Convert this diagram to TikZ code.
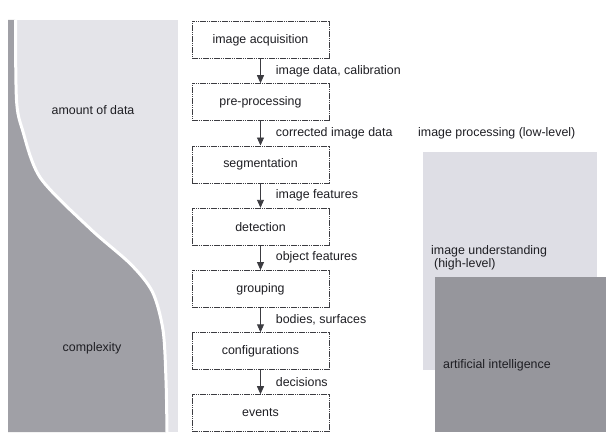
\documentclass[tikz,border=0pt]{standalone}
\usepackage{fontspec}
\setmainfont{Liberation Sans}
\usetikzlibrary{arrows.meta}
\definecolor{lightpanel}{RGB}{228,228,233}
\definecolor{darkpanel}{RGB}{160,160,166}
\definecolor{lightbox}{RGB}{222,222,229}
\definecolor{darkbox}{RGB}{150,150,156}
\definecolor{ink}{RGB}{30,30,35}
\definecolor{edge}{RGB}{60,60,65}
\tikzset{
  stepbox/.style={draw=edge, line width=0.55pt, dash pattern=on 1.6pt off 0.6pt,
    minimum width=137pt, minimum height=37pt, inner sep=0pt, text=ink},
  arr/.style={draw=edge, line width=0.9pt, -{Triangle[width=7pt,length=8pt]}},
  lbl/.style={anchor=west, inner sep=0pt, xshift=15pt, text=ink},
  txt/.style={inner sep=0pt, text=ink},
}
\begin{document}
\begin{tikzpicture}[x=1pt,y=-1pt,font=\fontsize{12.4}{14.5}\selectfont]
\useasboundingbox (0,0) rectangle (606,441);
\fill[white] (0,0) rectangle (606,441);
% left panel
\fill[lightpanel] (8,20) rectangle (178,432);
\fill[darkpanel] (8,20) -- (15,20) -- plot[smooth] coordinates {(15,20) (16,100) (22,130) (40,178) (90,229) (130,264) (152,292) (162,330) (165,380) (166,432)} -- (8,432) -- cycle;
\draw[white, line width=3pt] plot[smooth] coordinates {(15.5,20) (16.5,100) (22.5,130) (40.5,178) (90.5,229) (130.5,264) (152.5,292) (163,330) (166,380) (167,432)};
\node[txt] (amount) at (93,110) {amount of data};
\node[txt] (complex) at (92,348) {complexity};
% flow boxes
\node[stepbox] (b1) at (260.5,40) {image acquisition};
\node[stepbox] (b2) at (260.5,102) {pre-processing};
\node[stepbox] (b3) at (260.5,164.3) {segmentation};
\node[stepbox] (b4) at (260.5,226.6) {detection};
\node[stepbox] (b5) at (260.5,288.9) {grouping};
\node[stepbox] (b6) at (260.5,351.1) {configurations};
\node[stepbox] (b7) at (260.5,413) {events};
\draw[arr] (b1) -- node[lbl] {image data, calibration} (b2);
\draw[arr] (b2) -- node[lbl] {corrected image data} (b3);
\draw[arr] (b3) -- node[lbl] {image features} (b4);
\draw[arr] (b4) -- node[lbl] {object features} (b5);
\draw[arr] (b5) -- node[lbl] {bodies, surfaces} (b6);
\draw[arr] (b6) -- node[lbl] {decisions} (b7);
% right panel
\node[txt, anchor=west] (ip) at (418,133) {image processing (low-level)};
\fill[lightbox] (423,152) rectangle (597,370);
\fill[darkbox] (435,277) rectangle (606,432);
\node[txt, anchor=north west, align=left] (iu) at (431,245) {image understanding\\[-1pt]\hspace{3pt}(high-level)};
\node[txt, anchor=west] (ai) at (443,365) {artificial intelligence};
\end{tikzpicture}
\end{document}
